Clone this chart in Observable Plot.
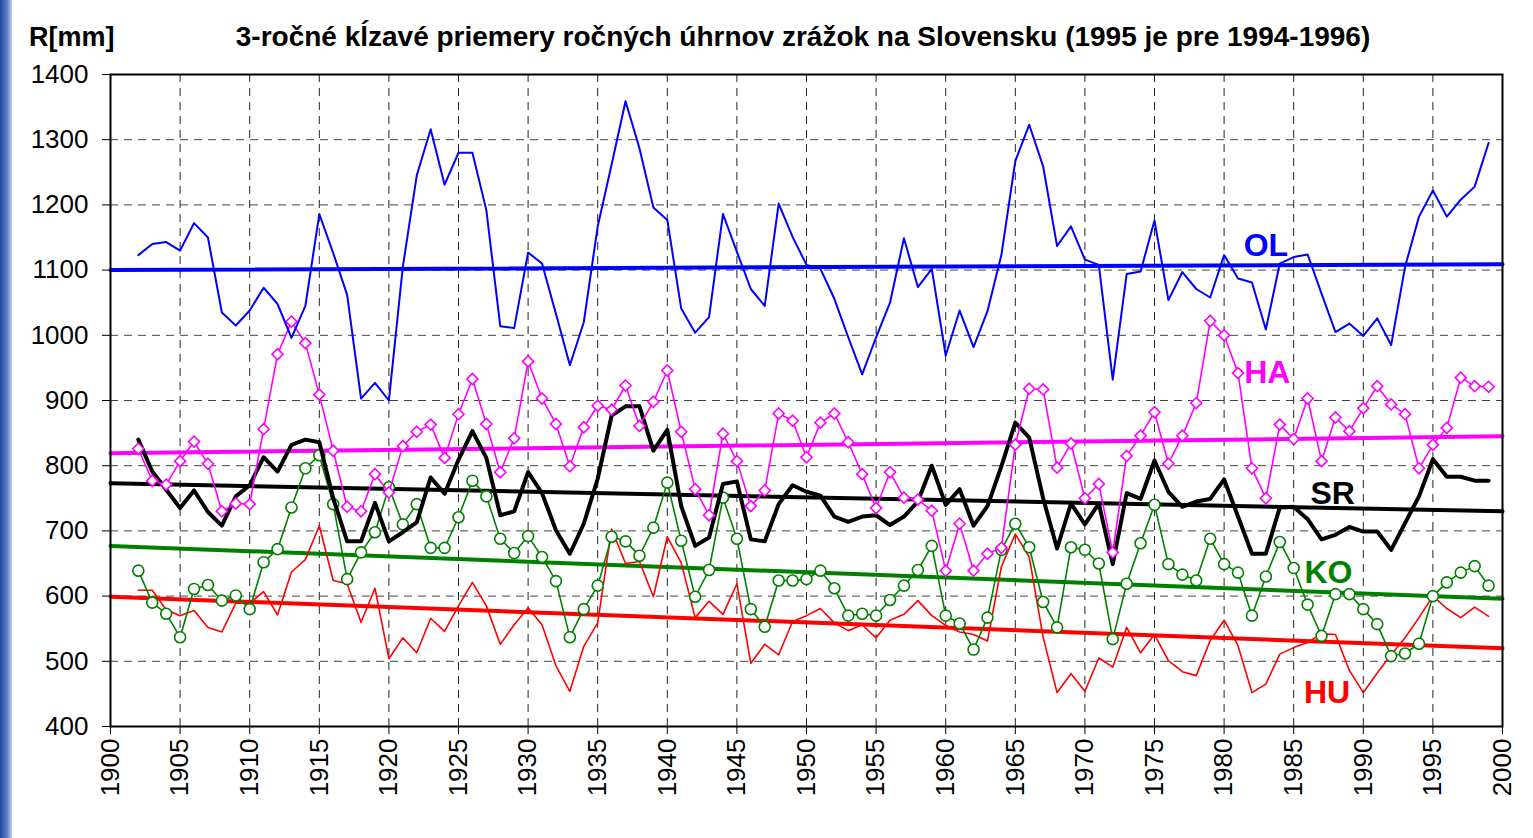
<!DOCTYPE html>
<html><head><meta charset="utf-8">
<script src="https://cdn.jsdelivr.net/npm/d3@7"></script>
<script src="https://cdn.jsdelivr.net/npm/@observablehq/plot@0.6"></script>
<style>
html,body{margin:0;padding:0;background:#fff;width:1533px;height:838px;overflow:hidden;font-family:"Liberation Sans",Arial,sans-serif;}
#strip{position:absolute;left:0;top:0;width:12px;height:838px;background:linear-gradient(to right,#1f47a0,#5f80c8 60%,#c4d0ec);}
#chart{position:absolute;left:0;top:0;}
#title{position:absolute;top:22px;left:803px;transform:translateX(-50%);white-space:nowrap;font-weight:bold;font-size:28px;line-height:30px;color:#000;}
#unit{position:absolute;top:22px;left:29px;font-weight:bold;font-size:27px;line-height:30px;color:#000;}
</style></head><body>
<div id="strip"></div>
<div id="chart"></div>
<div id="unit">R[mm]</div>
<div id="title">3-ročné kĺzavé priemery ročných úhrnov zrážok na Slovensku (1995 je pre 1994-1996)</div>
<script>
// years of the 3-year moving averages (1902 .. 1999)
const years = d3.range(1902, 2000);

const OL = [1123,1140,1143,1130,1172,1150,1035,1015,
  1038,1073,1048,996,1045,1186,1126,1062,903,927,
  900,1105,1245,1316,1231,1280,1280,1192,1014,1011,
  1127,1110,1033,954,1020,1167,1262,1359,1287,1196,
  1177,1041,1004,1028,1186,1128,1071,1045,1202,1151,
  1108,1102,1056,997,940,997,1050,1149,1074,1102,
  969,1038,982,1037,1123,1267,1323,1259,1137,1167,
  1116,1108,932,1094,1098,1176,1054,1097,1071,1058,
  1123,1087,1081,1009,1110,1120,1124,1064,1005,1018,
  999,1026,985,1105,1182,1222,1182,1208,1228,1295];

const HA = [826,777,771,807,837,803,730,742,
  741,856,971,1021,988,909,823,737,730,787,
  759,830,852,863,812,879,933,864,790,842,
  960,903,864,799,859,892,886,923,861,898,
  946,852,764,724,849,807,738,762,880,869,
  813,866,880,836,787,735,790,751,748,731,
  639,711,639,665,674,832,918,917,797,834,
  750,772,667,815,846,882,803,846,896,1022,
  1000,942,796,750,863,841,903,807,874,853,
  888,922,894,879,796,832,858,935,922,921];

const SR = [840,791,763,735,762,729,708,753,
  770,813,791,832,840,836,750,684,684,743,
  684,698,713,782,757,809,853,812,724,730,
  790,758,701,665,711,780,877,891,891,823,
  855,738,677,690,772,776,687,684,741,770,
  760,754,722,714,722,724,709,722,745,800,
  740,764,708,738,799,866,843,750,673,742,
  710,742,649,758,749,808,760,737,745,749,
  779,722,665,665,736,737,718,687,694,706,
  699,699,671,712,753,810,783,783,777,777];

const KO = [639,590,573,537,611,617,593,601,
  580,652,672,736,796,816,741,626,667,698,
  767,710,741,674,674,721,777,753,688,666,
  692,660,623,537,580,616,691,684,662,705,
  774,685,599,640,751,688,580,553,624,624,
  626,639,612,570,573,570,594,616,640,677,
  570,558,518,567,671,711,675,591,552,675,
  671,650,534,619,681,740,649,633,624,688,
  649,636,570,630,683,643,587,539,603,603,
  580,557,508,512,527,600,621,636,646,616];

const HU = [609,609,579,570,578,552,545,589,
  589,607,571,637,656,708,624,619,560,612,
  504,536,513,566,546,585,621,585,526,556,
  582,556,493,454,523,559,703,650,653,599,
  691,651,567,592,572,619,497,526,510,561,
  570,581,559,547,556,536,563,572,593,570,
  555,545,541,531,645,695,660,537,452,481,
  454,505,491,552,513,541,501,484,478,532,
  563,524,452,465,511,521,529,542,541,486,
  452,482,510,536,567,600,581,567,583,569];

// linear trends, values read at 1900 and 2000
const trendYears = [1900, 2000];
const trendOL = [1100, 1109];
const trendHA = [819, 845];
const trendSR = [773, 730];
const trendKO = [677, 596];
const trendHU = [599, 520];

// series labels (name, anchor year, anchor value)
const labelNames = ["OL", "HA", "SR", "KO", "HU"];
const labelYears = [1983.0, 1983.1, 1987.8, 1987.5, 1987.4];
const labelValues = [1138, 943, 757, 636, 451];

const xTicks = d3.range(1900, 2001, 5);
const yTicks = d3.range(400, 1401, 100);

// styles (kept apart from the data)
const colors = {OL: "#0000ff", HA: "#ff00ff", SR: "#000000", KO: "#008000", HU: "#ff0000"};

const toRows = (vals) => years.map((y, i) => ({year: y, value: vals[i]}));
const trendRows = (vals) => trendYears.map((y, i) => ({year: y, value: vals[i]}));
const labels = labelNames.map((n, i) => ({name: n, year: labelYears[i], value: labelValues[i]}));

const chart = Plot.plot({
  width: 1533,
  height: 838,
  marginLeft: 110,
  marginRight: 31,
  marginTop: 74,
  marginBottom: 112,
  style: {fontSize: "26px", fontFamily: "Liberation Sans, Arial, sans-serif", color: "#000", background: "transparent", overflow: "visible"},
  x: {domain: [1900, 2000], ticks: xTicks, tickFormat: d => String(d), tickRotate: -90, tickSize: 8, tickPadding: 4, label: null},
  y: {domain: [400, 1400], ticks: yTicks, tickFormat: d => String(d), tickSize: 8, tickPadding: 14, label: null},
  marks: [
    Plot.ruleX(xTicks, {x: d => d, stroke: "#222", strokeWidth: 1, strokeDasharray: "8,6"}),
    Plot.ruleY(yTicks, {y: d => d, stroke: "#444", strokeWidth: 1, strokeDasharray: "8,6"}),
    Plot.line(trendRows(trendOL), {x: "year", y: "value", stroke: colors.OL, strokeWidth: 4}),
    Plot.line(trendRows(trendHA), {x: "year", y: "value", stroke: colors.HA, strokeWidth: 4}),
    Plot.line(trendRows(trendSR), {x: "year", y: "value", stroke: colors.SR, strokeWidth: 4}),
    Plot.line(trendRows(trendKO), {x: "year", y: "value", stroke: colors.KO, strokeWidth: 4}),
    Plot.line(trendRows(trendHU), {x: "year", y: "value", stroke: colors.HU, strokeWidth: 4}),
    Plot.line(toRows(HU), {x: "year", y: "value", stroke: colors.HU, strokeWidth: 1.6}),
    Plot.line(toRows(KO), {x: "year", y: "value", stroke: colors.KO, strokeWidth: 1.6}),
    Plot.dot(toRows(KO), {x: "year", y: "value", r: 5.5, stroke: colors.KO, strokeWidth: 1.6, fill: "white"}),
    Plot.line(toRows(SR), {x: "year", y: "value", stroke: colors.SR, strokeWidth: 4}),
    Plot.line(toRows(HA), {x: "year", y: "value", stroke: colors.HA, strokeWidth: 1.6}),
    Plot.dot(toRows(HA), {x: "year", y: "value", symbol: "diamond2", r: 5, stroke: colors.HA, strokeWidth: 1.6, fill: "white"}),
    Plot.line(toRows(OL), {x: "year", y: "value", stroke: colors.OL, strokeWidth: 2}),
    Plot.text(labels, {x: "year", y: "value", text: "name", fill: d => colors[d.name], fontSize: 32, fontWeight: "bold", textAnchor: "middle"}),
    Plot.frame({stroke: "#000", strokeWidth: 2})
  ]
});
document.getElementById("chart").appendChild(chart);
</script>
</body></html>
